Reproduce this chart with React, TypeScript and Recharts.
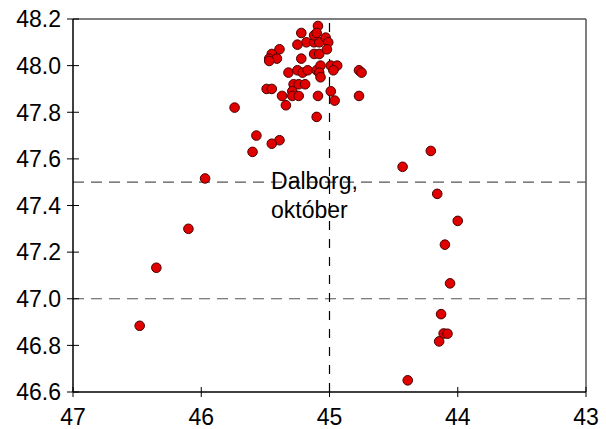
import {
  ReferenceDot,
  ReferenceLine,
  Scatter,
  ScatterChart,
  XAxis,
  YAxis,
} from "recharts";

// readings: x runs 47 -> 43 (reversed), y 46.6 -> 48.2
const xValues = [
  45.09, 45.22, 45.18, 45.12, 45.08, 45.12, 45.1, 45.03, 45.01, 45.25,
  45.39, 45.45, 45.47, 45.41, 45.47, 45.22, 45.12, 45.08, 45.02, 45.32,
  45.25, 45.21, 45.17, 45.1, 45.07, 45.08, 45.07, 44.99, 44.94, 44.97,
  44.77, 44.75, 45.28, 45.24, 45.19, 45.49, 45.45, 45.29, 45.37, 45.29,
  45.24, 45.34, 45.09, 44.99, 44.96, 44.77, 45.74, 45.1, 45.57, 45.39,
  45.6, 45.45, 45.97, 46.1, 46.35, 46.48, 44.21, 44.43, 44.16, 44.0,
  44.1, 44.06, 44.13, 44.11, 44.08, 44.145, 44.39,
];
const yValues = [
  48.17, 48.14, 48.1, 48.1, 48.1, 48.13, 48.14, 48.12, 48.1, 48.09,
  48.07, 48.05, 48.03, 48.03, 48.02, 48.03, 48.05, 48.05, 48.07, 47.97,
  47.98, 47.97, 47.98, 47.98, 48.0, 47.97, 47.95, 48.0, 48.0, 47.98,
  47.98, 47.97, 47.92, 47.92, 47.92, 47.9, 47.9, 47.89, 47.87, 47.87,
  47.87, 47.83, 47.87, 47.89, 47.85, 47.87, 47.82, 47.78, 47.7, 47.68,
  47.63, 47.665, 47.516, 47.3, 47.133, 46.884, 47.634, 47.566, 47.45, 47.334,
  47.232, 47.066, 46.934, 46.851, 46.85, 46.817, 46.65,
];
const xTicks = [47, 46, 45, 44, 43];
const yTicks = [46.6, 46.8, 47.0, 47.2, 47.4, 47.6, 47.8, 48.0, 48.2];
const hLines = [47.5, 47.0];
const vLine = 45;
const noteLines = ["Dalborg,", "október"];
const notePos = { x: 45.456, y: 47.47 };

const data = xValues.map((x, i) => ({ x, y: yValues[i] }));

const FONT = "'Liberation Sans', Arial, sans-serif";

function YTick(props: any) {
  const { x, y, payload } = props;
  return (
    <g>
      <line x1={x - 6} x2={x + 6} y1={y} y2={y} stroke="#000" />
      <text
        x={x - 12}
        y={y}
        dy="0.36em"
        textAnchor="end"
        fontSize={23}
        fontFamily={FONT}
        fill="#000"
      >
        {payload.value.toFixed(1)}
      </text>
    </g>
  );
}

function XTick(props: any) {
  const { x, y, payload } = props;
  return (
    <g>
      <line x1={x} x2={x} y1={y - 5} y2={y + 5} stroke="#000" />
      <text
        x={x}
        y={y + 33}
        textAnchor="middle"
        fontSize={23}
        fontFamily={FONT}
        fill="#000"
      >
        {payload.value}
      </text>
    </g>
  );
}

function Dot(props: any) {
  const { cx, cy } = props;
  return <circle cx={cx} cy={cy} r={4.8} fill="#e00000" stroke="#4a0000" strokeWidth={1} />;
}

function Note(props: any) {
  const vb = props.viewBox;
  return (
    <text x={vb.x} y={vb.y} fontSize={23} fontFamily={FONT} fill="#000">
      {noteLines.map((t, i) => (
        <tspan key={t} x={vb.x} dy={i === 0 ? 0 : 29}>
          {t}
        </tspan>
      ))}
    </text>
  );
}

export default function App() {
  return (
    <div style={{ position: "absolute", left: 0, top: 0, background: "#fff" }}>
      <ScatterChart
        width={606}
        height={429}
        margin={{ top: 19, right: 20, left: 0, bottom: 0 }}
      >
        <XAxis
          type="number"
          dataKey="x"
          domain={[43, 47]}
          reversed
          ticks={xTicks}
          interval={0}
          height={37}
          tickSize={0}
          tickMargin={0}
          tick={<XTick />}
          axisLine={{ stroke: "#000", strokeWidth: 1.5 }}
          allowDataOverflow
        />
        <YAxis
          type="number"
          dataKey="y"
          domain={[46.6, 48.2]}
          ticks={yTicks}
          interval={0}
          width={73}
          tickSize={0}
          tickMargin={0}
          tick={<YTick />}
          axisLine={{ stroke: "#000", strokeWidth: 1.5 }}
          allowDataOverflow
        />
        <ReferenceLine y={48.2} stroke="#000" strokeWidth={1.2} />
        <ReferenceLine x={43} stroke="#555" strokeWidth={1.5} />
        {hLines.map((v) => (
          <ReferenceLine key={v} y={v} stroke="#555" strokeDasharray="11 7" strokeWidth={1.2} />
        ))}
        <ReferenceLine x={vLine} stroke="#000" strokeDasharray="9 9" strokeWidth={1.2} />
        <ReferenceDot
          x={notePos.x}
          y={notePos.y}
          r={0}
          fill="none"
          stroke="none"
          label={{ content: (p: any) => <Note {...p} /> }}
        />
        <Scatter data={data} shape={<Dot />} isAnimationActive={false} />
      </ScatterChart>
    </div>
  );
}
